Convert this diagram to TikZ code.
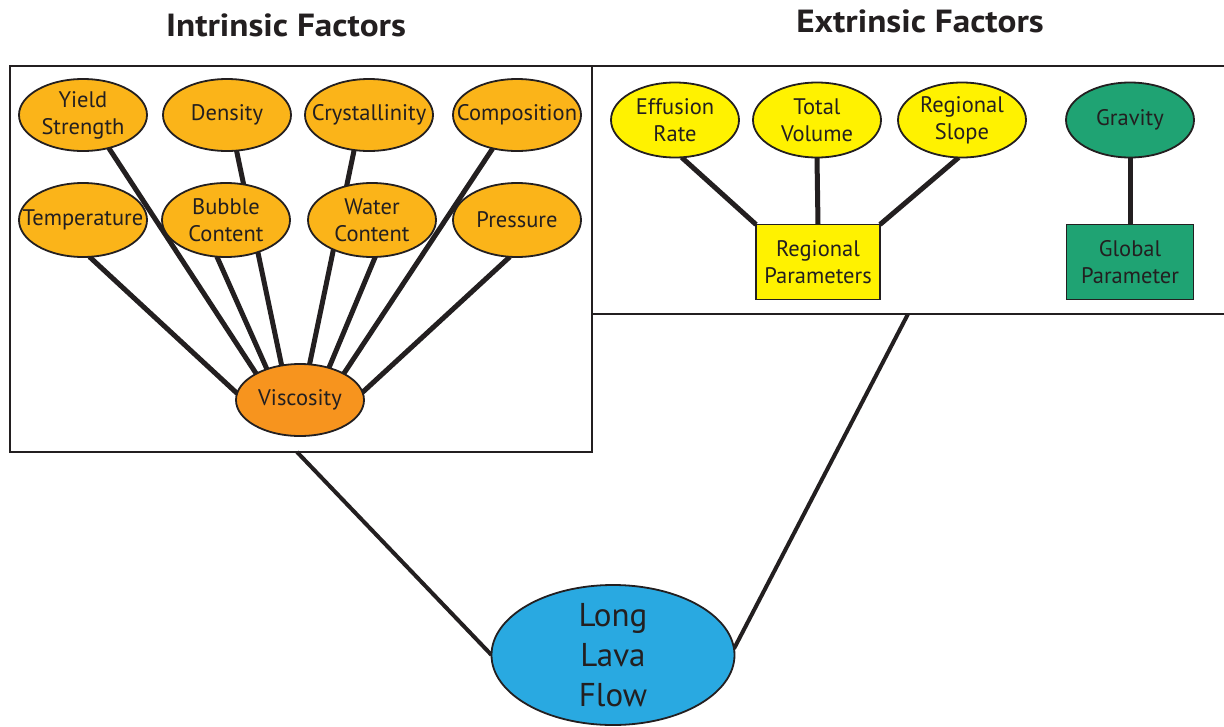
\documentclass[tikz,border=0pt]{standalone}
\usepackage{fontspec}
\setmainfont{PT Sans}
\usetikzlibrary{shapes.geometric}
\pgfdeclarelayer{background}
\pgfsetlayers{background,main}
\definecolor{ink}{HTML}{231F20}
\definecolor{amber}{HTML}{FBB419}
\definecolor{viscorange}{HTML}{F7941E}
\definecolor{lemon}{HTML}{FFF200}
\definecolor{leaf}{HTML}{1FA373}
\definecolor{sky}{HTML}{29A9E1}
\newcommand{\widehead}[1]{\scalebox{1.1}[1]{#1}}
\begin{document}
\begin{tikzpicture}[x=1pt,y=-1pt,
  blob/.style={ellipse, draw=ink, line width=1.8pt, inner xsep=-30pt, inner ysep=0pt,
    outer sep=0pt, align=center, text=ink, font=\fontsize{22.5}{27}\selectfont},
  factor/.style={blob, fill=amber, minimum width=128pt, minimum height=72pt},
  extfactor/.style={blob, minimum width=128pt, minimum height=75pt},
  param/.style={rectangle, draw=ink, line width=1.8pt, inner sep=0pt, outer sep=0pt,
    align=center, text=ink, font=\fontsize{22.5}{27}\selectfont,
    minimum height=75pt},
  panel/.style={rectangle, draw=ink, line width=2.4pt, fill=white, inner sep=0pt, outer sep=0pt},
  link/.style={draw=ink, line width=5pt},
  heading/.style={font=\fontsize{32}{36}\selectfont\bfseries, text=ink, inner sep=0pt}
]
\clip (0,0) rectangle (1224,726);

% headings
\node[heading] (tin) at (286,25) {\widehead{Intrinsic Factors}};
\node[heading] (tex) at (920,21) {\widehead{Extrinsic Factors}};

% intrinsic factors
\node[factor] (yield)  at (83,115)  {Yield\\Strength};
\node[factor] (dens)   at (227,115) {Density};
\node[factor] (cryst)  at (369,115) {Crystallinity};
\node[factor] (comp)   at (517,115) {Composition};
\node[factor, minimum height=74pt] (temp)   at (83,220)  {Temperature};
\node[factor, minimum height=74pt] (bubble) at (226,220) {Bubble\\Content};
\node[factor, minimum height=74pt] (water)  at (372,220) {Water\\Content};
\node[factor, minimum height=74pt] (press)  at (517,220) {Pressure};
\node[blob, fill=viscorange, minimum width=128pt, minimum height=72pt] (visc) at (300,400) {Viscosity};

% extrinsic factors
\node[extfactor, fill=lemon] (eff)    at (675,120) {Effusion\\Rate};
\node[extfactor, fill=lemon] (tvol)   at (817,120) {Total\\Volume};
\node[extfactor, fill=lemon] (rslope) at (962,120) {Regional\\Slope};
\node[extfactor, fill=leaf]  (grav)   at (1130,120) {Gravity};
\node[param, fill=lemon, minimum width=124pt] (regpar)  at (818,262)  {Regional\\Parameters};
\node[param, fill=leaf,  minimum width=127pt] (globpar) at (1130,262) {Global\\Parameter};

% outcome
\node[blob, fill=sky, minimum width=243pt, minimum height=140pt, inner ysep=-12pt,
  font=\fontsize{33}{40}\selectfont] (lava) at (613,655) {Long\\Lava\\Flow};

\begin{pgfonlayer}{background}
  \fill[white] (0,0) rectangle (1224,726);
  % panels
  \node[panel, minimum width=582pt, minimum height=386pt] (intr) at (301,259) {};
  \node[panel, minimum width=640pt, minimum height=248pt] (extr) at (912,190) {};
  \coordinate (infoot) at (297,452);
  \coordinate (exfoot) at (908,314);

  % intrinsic links into viscosity
  \draw[link] (temp.-80)    -- (visc.174);
  \draw[link] (yield.-52)   -- (visc.149);
  \draw[link] (bubble.-104) -- (visc.137);
  \draw[link] (dens.-75)    -- (visc.118);
  \draw[link] (cryst.-113)  -- (visc.75);
  \draw[link] (water.-85)   -- (visc.48);
  \draw[link] (comp.-126)   -- (visc.31);
  \draw[link] (press.-101)  -- (visc.7);

  % extrinsic links
  \draw[link] (eff.-80)    -- (regpar.north west);
  \draw[link] (tvol.south) -- (regpar.north);
  \draw[link] (rslope.-95) -- (regpar.north east);
  \draw[link] (grav.south) -- (globpar.north);

  % panels into the outcome
  \draw[link, line width=4pt] (infoot) -- (lava.180);
  \draw[link, line width=4pt] (exfoot) -- (lava.3);
\end{pgfonlayer}
\end{tikzpicture}
\end{document}
